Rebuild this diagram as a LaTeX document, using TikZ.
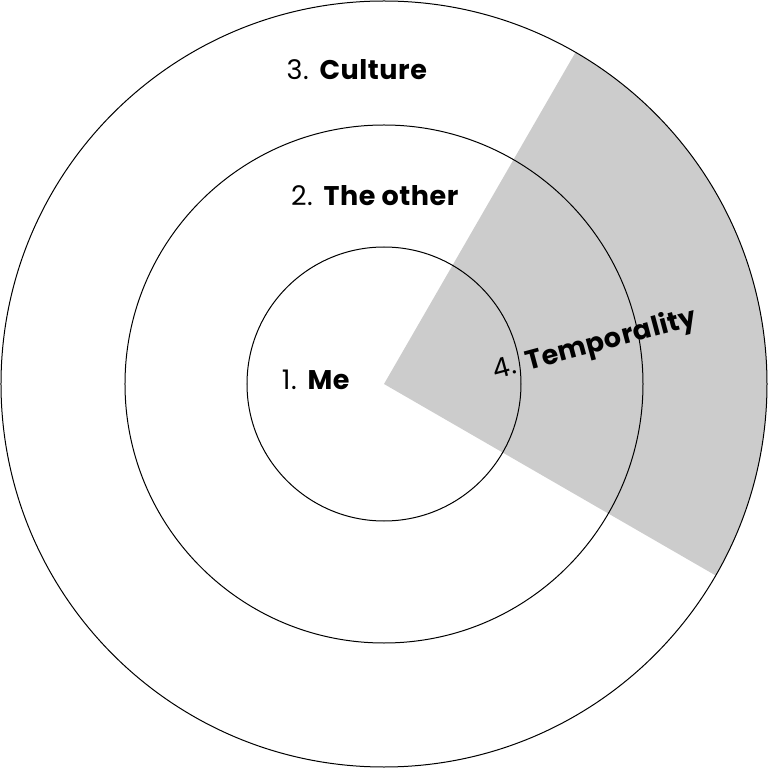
\documentclass[tikz,border=0pt]{standalone}
\usepackage{fontspec}
\setmainfont{Poppins}[LetterSpace=2]
\begin{document}
\begin{tikzpicture}[x=1pt,y=1pt,ring/.style={draw=black,line width=1pt},
lab/.style={font=\fontsize{27}{30}\selectfont,inner sep=0pt}]
\useasboundingbox (-384,-384) rectangle (384,384);
\begin{scope}
\clip (0,0) circle (383);
\fill[gray!40] (0,0) -- (-30:600) arc (-30:60:600) -- cycle;
\end{scope}
\draw[ring] (0,0) circle (383);
\draw[ring] (0,0) circle (259);
\draw[ring] (0,0) circle (137);
\node[lab] (me) at (-68,4) {1. \textbf{Me}};
\node[lab] (other) at (-9,188) {2. \textbf{The other}};
\node[lab] (cult) at (-27,314) {3. \textbf{Culture}};
\node[lab,rotate=15] (temp) at (211,39) {4. \textbf{Temporality}};
\end{tikzpicture}
\end{document}
